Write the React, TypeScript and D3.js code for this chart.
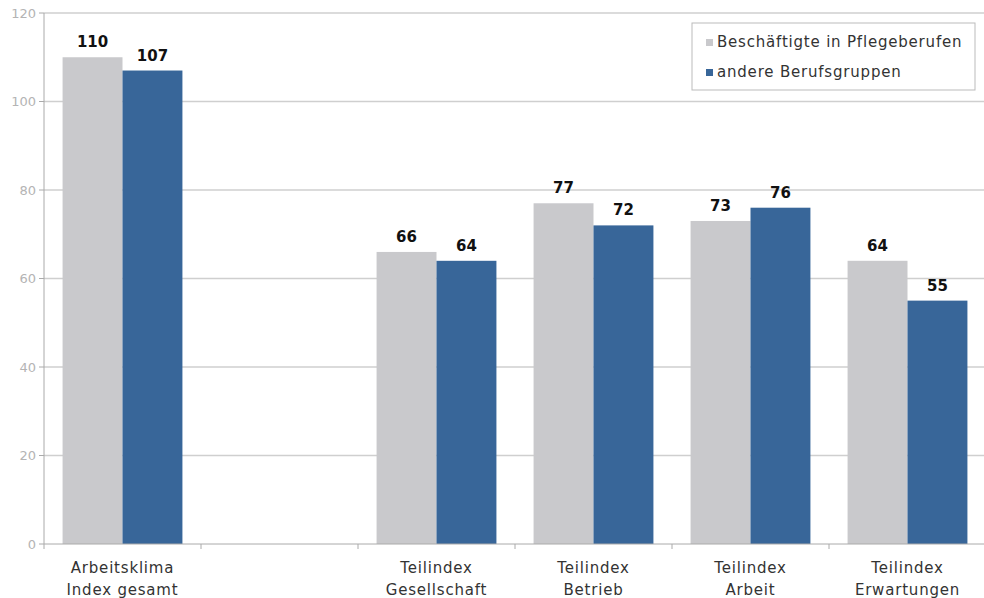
import React from 'react';
import * as d3 from 'd3';

// Kategorien (zweizeilige Beschriftung), eine leere Lücke nach dem Gesamtindex
const categories = ['gesamt', 'leer', 'gesellschaft', 'betrieb', 'arbeit', 'erwartungen'];
const categoryLabels = [
  ['Arbeitsklima', 'Index gesamt'],
  ['', ''],
  ['Teilindex', 'Gesellschaft'],
  ['Teilindex', 'Betrieb'],
  ['Teilindex', 'Arbeit'],
  ['Teilindex', 'Erwartungen'],
];
const seriesNames = ['Beschäftigte in Pflegeberufen', 'andere Berufsgruppen'];
const pflegeValues = [110, null, 66, 77, 73, 64];
const andereValues = [107, null, 64, 72, 76, 55];
const yTicks = [0, 20, 40, 60, 80, 100, 120];

const colors = ['#c9c9cc', '#386699'];

const App = () => {
  const width = 984;
  const height = 598;
  const left = 44;
  const right = 986;
  const top = 13;
  const bottom = 544;

  const x0 = d3.scaleBand<string>().domain(categories).range([left, right]).padding(0);
  const x1 = d3.scaleBand<string>().domain(seriesNames).range([0, x0.bandwidth()])
    .paddingInner(0).paddingOuter(0.31);
  const y = d3.scaleLinear().domain([0, 120]).range([bottom, top]);

  const values = [pflegeValues, andereValues];
  const font = '"DejaVu Sans", Verdana, sans-serif';

  return (
    <svg width={width} height={height} style={{ position: 'absolute', left: 0, top: 0, background: '#fff' }}>
      {/* Gitterlinien */}
      {yTicks.map(t => (
        <g key={t}>
          {t > 0 && <line x1={left} x2={width} y1={y(t)} y2={y(t)} stroke="#cfcfcf" strokeWidth={1.5} />}
          <line x1={left - 5} x2={left} y1={y(t)} y2={y(t)} stroke="#aaa" />
          <text x={36} y={y(t)} dy="0.35em" textAnchor="end" fontSize={13}
            fill="#b4b4b4" fontFamily={font}>{t}</text>
        </g>
      ))}

      {/* Balken */}
      {categories.map((c, i) => (
        <g key={c} transform={`translate(${x0(c)},0)`}>
          {seriesNames.map((s, k) => {
            const v = values[k][i];
            if (v == null) return null;
            const bx = x1(s)!;
            return (
              <g key={s}>
                <rect x={bx} y={y(v)} width={x1.bandwidth()} height={y(0) - y(v)} fill={colors[k]} />
                <text x={bx + x1.bandwidth() / 2} y={y(v) - 10} textAnchor="middle"
                  fontSize={15} fontWeight="bold" fill="#111" fontFamily={font}>{v}</text>
              </g>
            );
          })}
        </g>
      ))}

      {/* Achsen */}
      <line x1={left} x2={left} y1={top} y2={bottom} stroke="#aaa" />
      <line x1={left} x2={width} y1={bottom} y2={bottom} stroke="#aaa" />
      {categories.map(c => (
        <line key={c} x1={x0(c)} x2={x0(c)} y1={bottom} y2={bottom + 5} stroke="#aaa" />
      ))}
      {categories.map((c, i) => (
        <text key={c} x={x0(c)! + x0.bandwidth() / 2} y={573} textAnchor="middle"
          fontSize={15} letterSpacing={0.8} fill="#333" fontFamily={font}>
          <tspan x={x0(c)! + x0.bandwidth() / 2}>{categoryLabels[i][0]}</tspan>
          <tspan x={x0(c)! + x0.bandwidth() / 2} dy={22}>{categoryLabels[i][1]}</tspan>
        </text>
      ))}

      {/* Legende */}
      <rect x={692} y={23} width={283} height={67} fill="#fff" stroke="#bbb" />
      {seriesNames.map((s, k) => (
        <g key={s} transform={`translate(706,${42 + k * 30})`}>
          <rect x={0} y={-3} width={7} height={7} fill={colors[k]} />
          <text x={11} y={0} dy="0.35em" fontSize={15} letterSpacing={0.8} fill="#333" fontFamily={font}>{s}</text>
        </g>
      ))}
    </svg>
  );
};

export default App;
